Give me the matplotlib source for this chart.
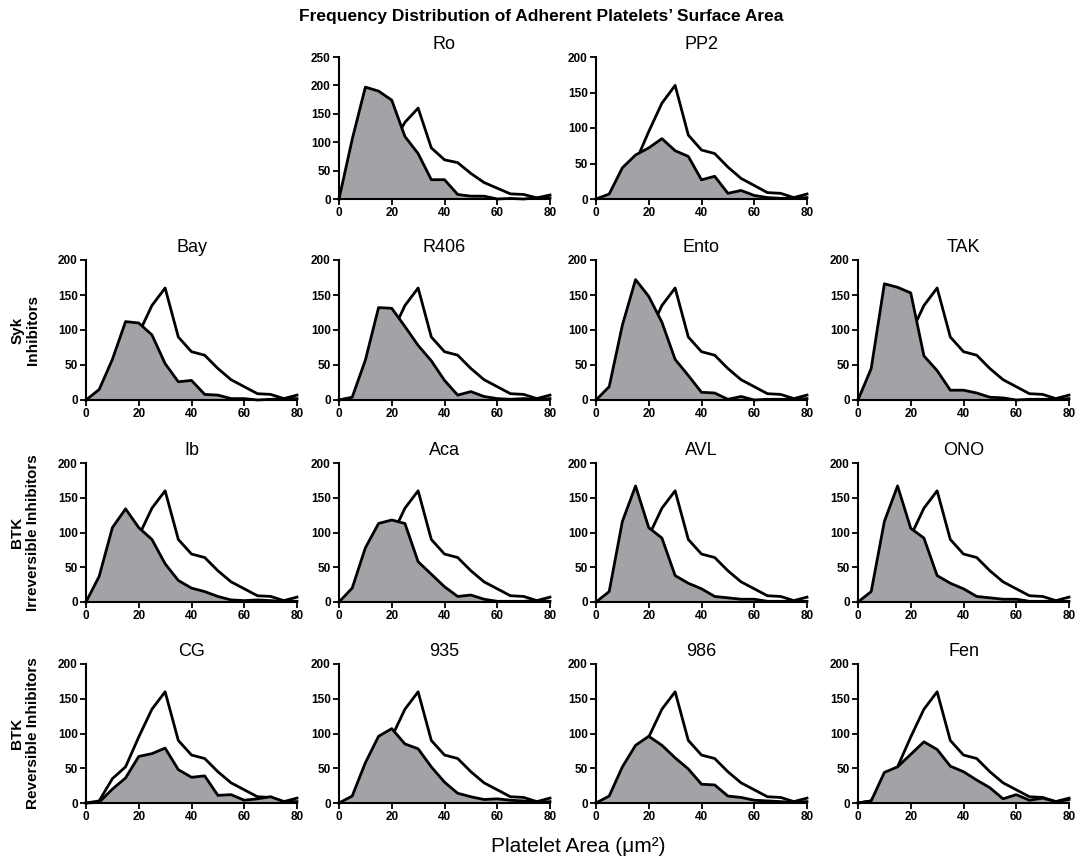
import matplotlib
matplotlib.use("Agg")
import matplotlib.pyplot as plt
import numpy as np

plt.rcParams['font.family'] = ['Liberation Sans', 'DejaVu Sans']

area = [0, 5, 10, 15, 20, 25, 30, 35, 40, 45, 50, 55, 60, 65, 70, 75, 80]
control = [0, 3, 35, 52, 95, 135, 160, 90, 69, 64, 45, 29, 19, 9, 8, 2, 7]

ro = [0, 105, 197, 190, 174, 110, 80, 34, 34, 8, 5, 5, 0, 1, 0, 2, 2]
pp2 = [0, 7, 44, 62, 72, 85, 68, 60, 27, 32, 8, 12, 5, 2, 1, 1, 2]
bay = [0, 15, 58, 112, 110, 93, 52, 26, 28, 8, 7, 2, 2, 0, 1, 2, 2]
r406 = [0, 4, 57, 132, 131, 105, 78, 56, 28, 7, 12, 5, 2, 1, 2, 1, 2]
ento = [0, 19, 107, 172, 148, 111, 58, 35, 11, 10, 1, 5, 0, 1, 1, 1, 2]
tak = [0, 45, 166, 161, 153, 63, 42, 14, 14, 10, 4, 3, 0, 1, 1, 1, 2]
ib = [0, 37, 107, 134, 107, 90, 55, 31, 20, 15, 8, 3, 2, 3, 2, 1, 1]
aca = [0, 20, 78, 113, 118, 113, 58, 40, 22, 8, 10, 4, 1, 1, 1, 2, 1]
avl = [0, 15, 116, 167, 107, 92, 38, 27, 19, 8, 6, 4, 4, 1, 1, 1, 1]
ono = [0, 15, 116, 167, 106, 92, 38, 27, 19, 8, 6, 4, 4, 1, 1, 1, 1]
cg = [0, 1, 20, 36, 67, 71, 79, 48, 37, 39, 11, 12, 4, 6, 9, 2, 2]
c935 = [0, 10, 58, 96, 107, 85, 78, 52, 30, 14, 9, 5, 6, 4, 3, 1, 2]
c986 = [0, 10, 52, 83, 96, 83, 65, 49, 27, 26, 10, 8, 4, 3, 2, 1, 2]
fen = [0, 3, 44, 52, 70, 88, 77, 53, 45, 33, 22, 6, 12, 4, 7, 2, 5]

titles = ["Ro", "PP2", "Bay", "R406", "Ento", "TAK", "Ib", "Aca", "AVL", "ONO",
          "CG", "935", "986", "Fen"]
series = [ro, pp2, bay, r406, ento, tak, ib, aca, avl, ono, cg, c935, c986, fen]
grid_pos = [(0, 1), (0, 2), (1, 0), (1, 1), (1, 2), (1, 3), (2, 0), (2, 1), (2, 2),
            (2, 3), (3, 0), (3, 1), (3, 2), (3, 3)]
ymaxes = [250, 200] + [200] * 12
row_labels = ["Syk\nInhibitors", "BTK\nIrreversible Inhibitors", "BTK\nReversible Inhibitors"]

W, H = 1082, 861
fig = plt.figure(figsize=(W / 100, H / 100), dpi=100)

col_left = [86, 339, 596, 858]
col_w = 211
row_tb = [(57, 199), (260, 400), (463, 602), (664, 803)]

gray = "#a3a3a7"
for name, vals, (r, c), ym in zip(titles, series, grid_pos, ymaxes):
    top, bot = row_tb[r]
    ax = fig.add_axes([col_left[c] / W, 1 - bot / H, col_w / W, (bot - top) / H])
    ax.fill_between(area, control, 0, color="white", zorder=1, clip_on=False)
    ax.plot(area, control, color="black", lw=2.0, zorder=2, clip_on=False)
    ax.fill_between(area, vals, 0, color=gray, zorder=3, clip_on=False, lw=0)
    ax.plot(area, vals, color="black", lw=2.0, zorder=4, clip_on=False)
    ax.set_xlim(0, 80)
    ax.set_ylim(0, ym)
    ax.set_xticks([0, 20, 40, 60, 80])
    ax.set_yticks(np.arange(0, ym + 1, 50))
    for s in ["top", "right"]:
        ax.spines[s].set_visible(False)
    for s in ["left", "bottom"]:
        ax.spines[s].set_linewidth(1.5)
        ax.spines[s].set_zorder(5)
    ax.tick_params(length=4, width=1.3, labelsize=8.5, pad=2)
    for lab in ax.get_xticklabels() + ax.get_yticklabels():
        lab.set_fontweight("bold")
    ax.set_title(name, fontsize=13, pad=6)

for i, lab in enumerate(row_labels):
    top, bot = row_tb[i + 1]
    fig.text(25 / W, 1 - (top + bot) / 2 / H, lab, rotation=90, ha="center",
             va="center", fontsize=11, fontweight="bold", linespacing=1.1)

fig.text(0.5, 1 - 17 / H, "Frequency Distribution of Adherent Platelets\u2019 Surface Area",
         ha="center", va="center", fontsize=12.5, fontweight="bold")
fig.text(578 / W, 1 - 846 / H, "Platelet Area (\u03bcm\u00b2)", ha="center", va="center",
         fontsize=15)

fig.savefig("out.png", dpi=100)
